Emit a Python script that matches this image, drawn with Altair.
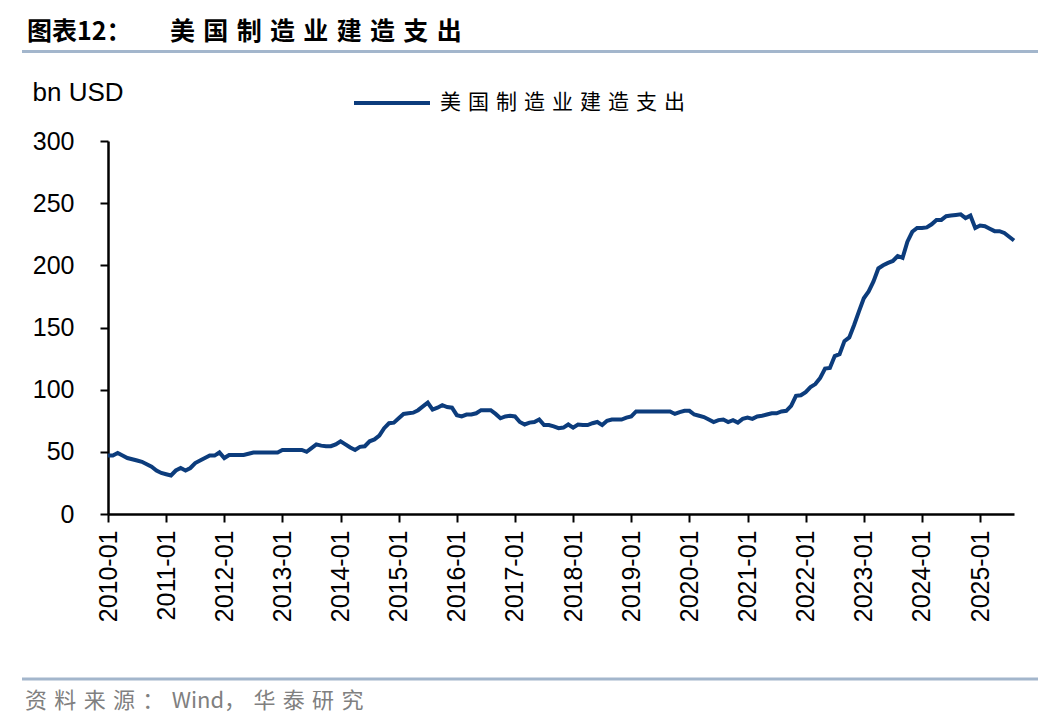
import altair as alt
import pandas as pd

# Monthly values (bn USD)
v2010 = [47, 47, 49, 47, 45, 44, 43, 42, 40, 38, 35, 33]
v2011 = [32, 31, 35, 37, 35, 37, 41, 43, 45, 47, 47, 49.5]
v2012 = [45, 47.5, 47.5, 47.5, 47.5, 48.5, 49.5, 49.5, 49.5, 49.5, 49.5, 49.5]
v2013 = [51.5, 51.5, 51.5, 51.5, 51.5, 50, 53, 56, 55, 54.5, 54.5, 56]
v2014 = [58.5, 56, 53.5, 51.5, 54, 54.5, 58.5, 60, 63, 69, 73, 73.5]
v2015 = [77, 80.5, 81, 81.5, 83.5, 86.5, 89.5, 84, 85.5, 87.5, 86, 85.5]
v2016 = [79.5, 78.5, 80, 80, 81, 83.5, 83.5, 83.5, 80.5, 77, 78.5, 79]
v2017 = [78.5, 74, 72, 73.5, 74, 76, 71.5, 71.5, 70.5, 69, 69.5, 72]
v2018 = [69.5, 72, 71.5, 71.5, 73, 74, 71.5, 75, 76, 76, 76, 77.5]
v2019 = [78.5, 82.5, 82.5, 82.5, 82.5, 82.5, 82.5, 82.5, 82.5, 80.5, 82, 83]
v2020 = [83, 80, 79, 78, 76, 74, 75.5, 76, 74, 75.5, 73.5, 76.5]
v2021 = [77.5, 76.5, 78.5, 79, 80, 81, 81, 82.5, 83, 87, 95, 95.5]
v2022 = [98, 102, 104.5, 109.5, 117, 117.5, 127, 128.5, 139, 142, 152, 163]
v2023 = [173.5, 179, 187, 197.5, 200, 202, 203.5, 207.5, 206, 219, 227, 230]
v2024 = [230, 230.5, 233, 236.5, 236.5, 239.5, 240, 240.5, 241, 238, 240, 230]
v2025 = [232, 231.5, 229.5, 227.5, 227.5, 226, 223, 220]

years = list(range(2010, 2026))
yearly = [v2010, v2011, v2012, v2013, v2014, v2015, v2016, v2017,
          v2018, v2019, v2020, v2021, v2022, v2023, v2024, v2025]

tick_labels = [f"{y}-01" for y in years]
y_ticks = [0, 50, 100, 150, 200, 250, 300]

series_name = "美国制造业建造支出"
title_prefix = "图表12："
source_parts = ["资料来源：", "Wind", "，华泰研究"]
unit_text = "bn USD"

SP = "\u2004"


def spaced(s):
    return SP.join(s)


source_text = spaced(source_parts[0]) + SP + source_parts[1] + spaced(source_parts[2])

months, values = [], []
for y, vals in zip(years, yearly):
    for m, v in enumerate(vals, start=1):
        months.append(f"{y}-{m:02d}")
        values.append(v)

df = pd.DataFrame({"month": months, "value": values, "series": spaced(series_name)})

NAVY = "#0c3c7c"
RULE = "#a3b6cc"
LATIN = "Liberation Sans"
CJK = "Noto Sans CJK SC"

line = alt.Chart(df).mark_line(strokeWidth=4).encode(
    x=alt.X("month:O", sort=None,
            scale=alt.Scale(type="point", padding=0),
            axis=alt.Axis(values=tick_labels, labelAngle=270, title=None,
                          labelFont=LATIN, labelFontSize=25, labelColor="black",
                          labelPadding=8, labelOverlap=False, labelFlush=False,
                          domainColor="black", domainWidth=2.5,
                          tickColor="black", tickWidth=2, tickSize=8, grid=False)),
    y=alt.Y("value:Q",
            scale=alt.Scale(domain=[0, 300], nice=False, zero=True),
            axis=alt.Axis(values=y_ticks, title=unit_text, titleAngle=0,
                          titleX=-76, titleY=-49, titleAlign="left",
                          titleBaseline="middle", titleFont=LATIN,
                          titleFontSize=26, titleFontWeight="normal",
                          titleColor="black",
                          labelFont=LATIN, labelFontSize=25, labelColor="black",
                          labelPadding=26,
                          domainColor="black", domainWidth=2.5,
                          tickColor="black", tickWidth=2, tickSize=8, grid=False)),
    color=alt.Color("series:N",
                    scale=alt.Scale(range=[NAVY]),
                    legend=alt.Legend(title=None, orient="none",
                                      legendX=244, legendY=-78,
                                      symbolType="stroke", symbolSize=5776,
                                      symbolStrokeWidth=4,
                                      labelFont=CJK, labelFontSize=21,
                                      labelColor="black", labelOffset=8,
                                      labelLimit=0, padding=0)),
)

one = pd.DataFrame({"k": [0]})

title1 = alt.Chart(pd.DataFrame({"t": [title_prefix]})).mark_text(
    align="left", baseline="middle", font=CJK, fontSize=25, fontWeight="bold",
    color="black").encode(text="t:N", x=alt.value(-81), y=alt.value(-109))

title2 = alt.Chart(pd.DataFrame({"t": [spaced(series_name)]})).mark_text(
    align="left", baseline="middle", font=CJK, fontSize=25, fontWeight="bold",
    color="black").encode(text="t:N", x=alt.value(62), y=alt.value(-109))

top_rule = alt.Chart(one).mark_rule(color=RULE, strokeWidth=3).encode(
    x=alt.value(-86), x2=alt.value(932), y=alt.value(-89.5))

bottom_rule = alt.Chart(one).mark_rule(color=RULE, strokeWidth=3).encode(
    x=alt.value(-86), x2=alt.value(932), y=alt.value(538))

src = alt.Chart(pd.DataFrame({"t": [source_text]})).mark_text(
    align="left", baseline="middle", font=CJK, fontSize=22, color="#808080"
).encode(text="t:N", x=alt.value(-83), y=alt.value(560))

chart = alt.layer(line, title1, title2, top_rule, bottom_rule, src).properties(
    width=906, height=373,
    padding={"left": 100, "top": 133, "right": 24, "bottom": 200},
    autosize=alt.AutoSizeParams(type="none"),
).configure_view(stroke=None)

chart.save("out.html", embed_options={"renderer": "svg", "actions": False})
